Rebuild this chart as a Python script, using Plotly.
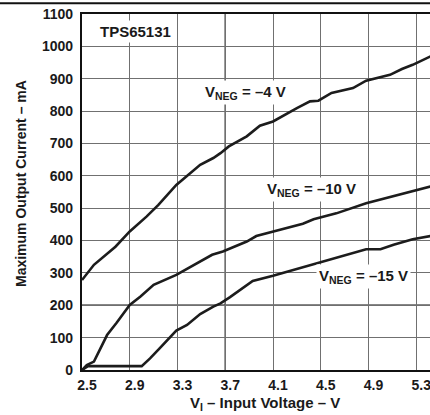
import plotly.graph_objects as go

# Data
v_neg4 = [2.50, 2.60, 2.78, 2.90, 3.04, 3.14, 3.29, 3.49, 3.60, 3.66, 3.73, 3.88, 3.99, 4.10, 4.30, 4.41, 4.48, 4.59, 4.77, 4.88, 5.08, 5.18, 5.27, 5.42]
i_neg4 = [278, 325, 381, 428, 474, 510, 572, 634, 655, 670, 691, 722, 755, 768, 809, 830, 832, 856, 871, 894, 912, 930, 943, 969]

v_neg10 = [2.50, 2.54, 2.60, 2.65, 2.71, 2.79, 2.90, 2.99, 3.10, 3.29, 3.46, 3.59, 3.68, 3.78, 3.88, 3.96, 4.10, 4.35, 4.44, 4.63, 4.88, 5.11, 5.27, 5.42]
i_neg10 = [0, 15, 26, 62, 108, 146, 201, 227, 263, 294, 330, 356, 366, 381, 397, 414, 428, 452, 466, 484, 515, 538, 552, 567]

v_neg15 = [2.50, 2.55, 3.00, 3.07, 3.15, 3.24, 3.29, 3.38, 3.49, 3.60, 3.66, 3.74, 3.82, 3.93, 4.10, 4.35, 4.63, 4.88, 5.00, 5.11, 5.27, 5.42]
i_neg15 = [0, 12, 12, 36, 67, 103, 122, 139, 173, 196, 206, 225, 247, 275, 291, 318, 348, 373, 373, 387, 404, 414]

x_ticks = [2.5, 2.9, 3.3, 3.7, 4.1, 4.5, 4.9, 5.3]
y_ticks = list(range(0, 1101, 100))

FONT = "Liberation Sans, Arial, sans-serif"
LINE = dict(color="#1c1c1c", width=2.6)

fig = go.Figure()
for vx, iy in [(v_neg4, i_neg4), (v_neg10, i_neg10), (v_neg15, i_neg15)]:
    fig.add_trace(go.Scatter(x=vx, y=iy, mode="lines", line=LINE, showlegend=False, hoverinfo="skip"))

fig.update_layout(
    width=430, height=415,
    margin=dict(l=82, r=0, t=14, b=45),
    paper_bgcolor="white", plot_bgcolor="white",
    font=dict(family=FONT, size=14, color="#1a1a1a", weight="bold"),
    showlegend=False,
)
fig.update_xaxes(
    range=[2.5, 5.415], tickvals=x_ticks, ticktext=[f"{t:.1f}" for t in x_ticks],
    showgrid=True, gridcolor="#707070", gridwidth=1.4,
    showline=True, linecolor="#111", linewidth=2.2, mirror=True,
    ticks="", ticklabelshift=5, ticklabelstandoff=1, zeroline=False, automargin=False,
    ticklabeloverflow="allow",
    tickfont=dict(size=14, family=FONT, weight="bold"),
)
fig.update_yaxes(
    range=[0, 1100], tickvals=y_ticks,
    showgrid=True, gridcolor="#707070", gridwidth=1.4,
    showline=True, linecolor="#111", linewidth=2.2, mirror=False,
    ticks="", ticklabelstandoff=4, zeroline=False, automargin=False,
    ticklabeloverflow="allow",
    tickfont=dict(size=14, family=FONT, weight="bold"),
)

# darker grid lines seen in the reference
fig.add_shape(type="line", xref="paper", yref="y", x0=0, x1=1, y0=200, y1=200,
              line=dict(color="#111", width=1.4), layer="below")
fig.add_shape(type="line", xref="x", yref="paper", x0=3.7, x1=3.7, y0=0, y1=1,
              line=dict(color="#222", width=1.4), layer="below")
# top rule of the page
fig.add_shape(type="line", xref="paper", yref="paper", x0=-0.24, x1=1.0, y0=1.03, y1=1.03,
              line=dict(color="#111", width=2))

ann_font = dict(family=FONT, size=15, color="#1a1a1a", weight="bold")
labels = [
    (2.944, 1045, "TPS65131"),
    (3.873, 857, "V<sub>NEG</sub> = –4 V"),
    (4.426, 557, "V<sub>NEG</sub> = –10 V"),
    (4.86, 288, "V<sub>NEG</sub> = –15 V"),
]
for x, y, t in labels:
    fig.add_annotation(x=x, y=y, xref="x", yref="y", text=t, showarrow=False,
                       font=ann_font, bgcolor="white", borderpad=2)

fig.add_annotation(x=(265 - 82) / 348, y=(370 - 403) / 356, xref="paper", yref="paper",
                   text="V<sub>I</sub> – Input Voltage – V", showarrow=False,
                   font=dict(family=FONT, size=15, color="#1a1a1a", weight="bold"),
                   xanchor="center", yanchor="middle")
fig.add_annotation(x=(21 - 82) / 348, y=(370 - 184) / 356, xref="paper", yref="paper",
                   text="Maximum Output Current – mA", showarrow=False, textangle=-90,
                   font=dict(family=FONT, size=14, color="#1a1a1a", weight="bold"),
                   xanchor="center", yanchor="middle")

fig.write_html("out.html", config={"displayModeBar": False},
               post_script="document.body.style.margin='0px';document.body.style.overflow='hidden';")
